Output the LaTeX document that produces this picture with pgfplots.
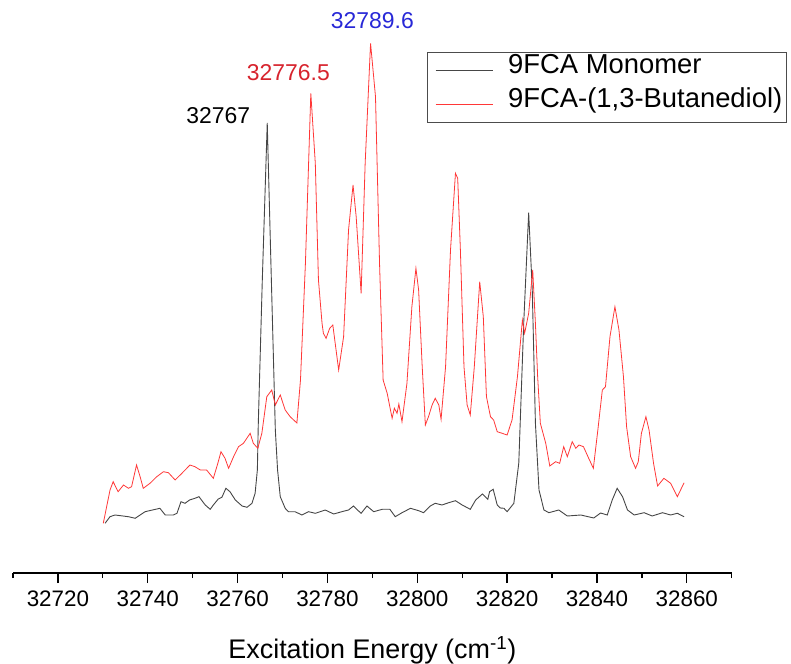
\documentclass[border=0pt]{standalone}
\usepackage{fontspec}
\setmainfont{Liberation Sans}
\usepackage{pgfplots}
\pgfplotsset{compat=1.18}
\definecolor{monocol}{RGB}{70,70,70}
\definecolor{butcol}{RGB}{255,55,55}
\definecolor{lblred}{RGB}{215,35,45}
\definecolor{lblblue}{RGB}{40,40,215}
\begin{document}
\begin{tikzpicture}
\useasboundingbox (-13bp,-91bp) rectangle (778bp,573bp);
\begin{axis}[
  scale only axis, width=718.7bp, height=563bp,
  xmin=32710, xmax=32870, ymin=0, ymax=563,
  axis x line*=bottom, axis y line=none,
  clip=false,
  scaled x ticks=false,
  xtick={32720,32740,...,32860},
  minor xtick={32710,32730,...,32870},
  xtick pos=bottom,
  tick align=outside,
  every tick/.style={black, line width=1.3bp},
  axis line style={black, line width=1.3bp},
  major tick length=10bp, minor tick length=5bp,
  /pgf/number format/assume math mode=true,
  /pgf/number format/1000 sep={},
  /pgf/number format/fixed, /pgf/number format/precision=0,
  xticklabel style={font=\fontsize{22.5}{27}\selectfont, yshift=-4bp},
  xlabel={Excitation Energy (cm\textsuperscript{-1})},
  xlabel style={font=\fontsize{27}{32}\selectfont, at={(axis description cs:0.5,0)}, anchor=base, yshift=-85bp},
  legend cell align=left,
  legend image code/.code={\path (0bp,0bp); \draw[#1] (4bp,0bp) -- (61bp,0bp);},
  legend style={at={(axis description cs:1.0765,0.926)}, anchor=north east,
    draw=black!70, line width=0.8bp, font=\fontsize{27.5}{32}\selectfont,
    inner xsep=4bp, inner ysep=0.5bp, column sep=15bp, row sep=-2.3bp,
    nodes={inner sep=0bp, text height=21bp, text depth=15bp}},
]
\addplot[monocol, line width=0.9bp] coordinates {
(32730.5,49.7)(32731.6,56.3)(32732.7,58)(32735.7,56.3)(32737.2,54.7)(32739.4,61.3)
(32742.7,64.7)(32743.9,58)(32745.7,58)(32746.5,59.7)(32747.4,71.3)(32748.3,69.7)
(32749.3,73)(32750.5,74.7)(32751.4,76.3)(32752.8,68)(32753.9,63.7)(32754.6,68)
(32755.7,74)(32756.5,75.7)(32757.4,84.7)(32758.3,81.3)(32759.5,73)(32761.0,67)
(32762.1,65.7)(32763.2,69.7)(32763.9,79.7)(32764.4,103)(32764.6,148)(32765.5,293)
(32766.6,450)(32767.4,313)(32768.4,143)(32768.9,103)(32769.5,76.3)(32770.6,64.7)
(32771.3,61.3)(32772.8,61.3)(32774.3,58)(32775.8,61.3)(32777.3,59.7)(32779.5,63)
(32781.4,59)(32783.2,61.3)(32784.7,63)(32785.8,67)(32786.7,63)(32787.5,59.7)
(32788.8,67)(32790.3,61.3)(32792.2,63.7)(32793.9,63.7)(32795.1,56.3)(32796.6,60.3)
(32798.5,64.7)(32800.3,62.3)(32801.4,60.3)(32802.9,67)(32804.0,69.7)(32805.5,68)
(32807.0,70.3)(32808.5,72.3)(32810.0,68)(32811.8,63.7)(32813.0,73)(32814.5,79)
(32815.7,73.7)(32816.1,81.3)(32816.9,83.7)(32817.8,68)(32818.5,65)(32819.3,64.7)
(32820.0,61.3)(32821.5,69.7)(32822.6,110)(32823.7,250)(32824.8,360.3)(32825.6,283)
(32826.3,150)(32827.1,83)(32828.2,63)(32829.3,60.3)(32831.5,63)(32833.4,57)
(32836.4,58)(32839.3,55)(32840.8,60)(32842.3,58)(32843.4,73)(32844.5,84.7)
(32845.7,76.3)(32846.8,63)(32848.3,58)(32850.5,60.3)(32852.3,57)(32854.6,60.3)
(32856.4,58)(32857.9,59.7)(32859.4,56.3)
};
\addlegendentry{9FCA Monomer}
\addplot[butcol, line width=0.8bp] coordinates {
(32730.1,49.7)(32731.6,83)(32732.3,91.3)(32733.4,81.3)(32734.6,88)(32735.7,84.7)
(32736.4,86.3)(32737.5,108)(32738.3,96.3)(32739.0,84.7)(32740.5,89.7)(32742.0,96.3)
(32743.5,101.3)(32744.6,100.3)(32746.1,93)(32747.6,99.7)(32749.4,108)(32750.5,106.3)
(32751.7,103)(32753.1,103)(32754.6,94.7)(32755.6,109.7)(32756.3,121.3)(32757.2,114.7)
(32758.0,104.7)(32759.1,116.3)(32760.2,126.3)(32761.3,129.7)(32762.8,139.7)(32763.5,129.7)
(32764.5,124.7)(32765.4,139.7)(32766.5,176.3)(32767.6,183)(32768.4,168)(32769.5,178)
(32770.6,163)(32771.7,156.3)(32773.2,150)(32774.0,193)(32775.1,309.7)(32776.3,479.7)
(32777.3,409.7)(32778.0,293)(32778.8,249.7)(32779.1,239.7)(32779.7,234.7)(32780.5,244.7)
(32781.2,248)(32782.5,203)(32783.6,236.3)(32784.7,343)(32785.7,388)(32786.4,356.3)
(32787.5,279.7)(32788.4,409.7)(32789.6,529.7)(32790.7,476.3)(32791.6,309.7)(32792.4,193)
(32793.3,179.7)(32794.4,154.7)(32794.9,164.7)(32795.5,159.7)(32795.9,169)(32796.6,151.3)
(32797.7,189.7)(32798.8,266.3)(32799.7,304.7)(32800.3,283)(32801.1,206.3)(32801.8,148)
(32802.5,156.3)(32803.3,168)(32804.0,174.7)(32804.8,168)(32805.3,153.7)(32806.3,206.3)
(32807.4,323)(32808.5,399.7)(32809.0,394.7)(32809.6,323)(32810.4,206.3)(32811.1,168)
(32811.8,158)(32812.7,206.3)(32813.9,291.3)(32814.7,256.3)(32815.4,176.3)(32816.3,156.3)
(32817.0,153)(32817.8,141.3)(32818.9,139.7)(32820.0,138)(32821.1,153)(32822.3,196.3)
(32823.4,253)(32823.9,239.7)(32824.8,259.7)(32825.7,303)(32826.3,249.7)(32826.8,196.3)
(32827.4,149.7)(32828.6,129.7)(32829.5,107)(32830.8,111.3)(32831.7,109.7)(32832.6,126.3)
(32833.4,116.3)(32834.5,131.3)(32835.3,124.7)(32836.0,128)(32837.0,126.3)(32838.0,116.3)
(32839.2,104.7)(32840.2,143)(32841.2,183)(32841.9,186.3)(32842.9,236.3)(32844.0,266.3)
(32844.9,243)(32845.9,196.3)(32846.6,146.3)(32847.5,116.3)(32848.6,104.7)(32849.2,111.3)
(32849.9,139.7)(32850.9,156.3)(32851.6,143)(32852.6,109.7)(32853.5,87)(32854.9,94.7)
(32856.4,89.7)(32857.9,76.3)(32859.4,90.3)
};
\addlegendentry{9FCA-(1,3-Butanediol)}
\node[font=\fontsize{23}{27}\selectfont, text=black] at (axis cs:32755.7,457.5) {32767};
\node[font=\fontsize{23}{27}\selectfont, text=lblred] at (axis cs:32771.3,500.5) {32776.5};
\node[font=\fontsize{23}{27}\selectfont, text=lblblue] at (axis cs:32790,552) {32789.6};
\end{axis}
\end{tikzpicture}
\end{document}
